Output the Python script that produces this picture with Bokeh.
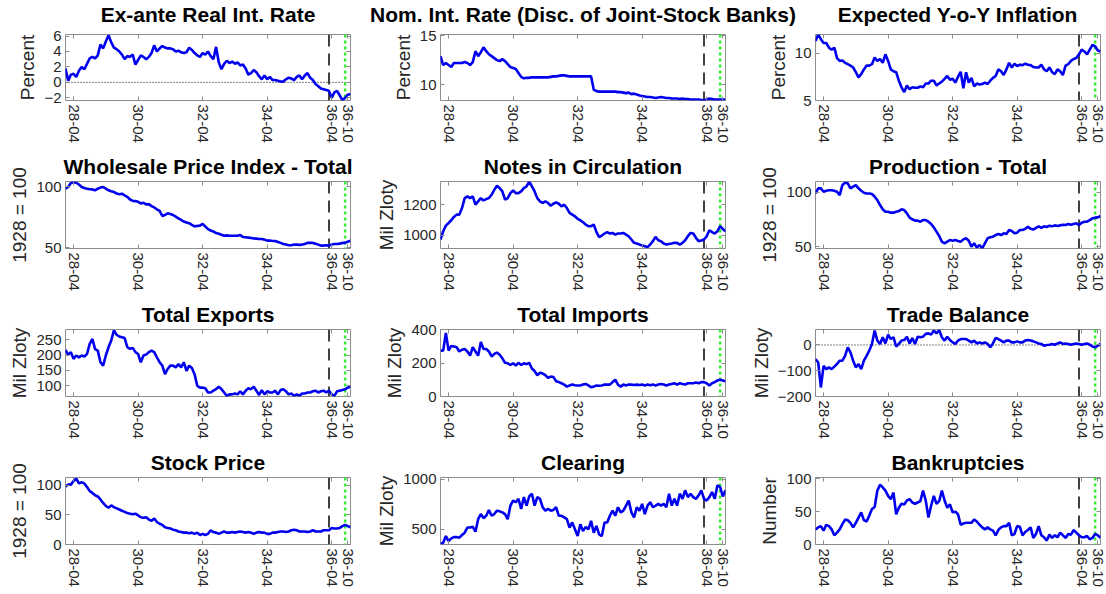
from bokeh.plotting import figure
from bokeh.layouts import column, row
from bokeh.models import Range1d, FixedTicker, LinearAxis, Span
from bokeh.embed import file_html
from bokeh.resources import INLINE

# ---------------- data (monthly, index 0 = 1928-01) ----------------
months = list(range(107))
tick_pos = [3, 27, 51, 75, 99, 105]
tick_labels = ["28-04", "30-04", "32-04", "34-04", "36-04", "36-10"]
marker_dashed = 98
marker_green = 104

real_rate = [1.8,0.2,1.0,1.1,0.7,1.5,2.0,1.7,2.4,3.1,
 3.3,3.1,3.5,4.9,4.4,5.3,6.1,5.2,4.5,4.3,
 4.0,3.6,3.0,3.4,3.3,3.6,2.3,2.9,3.5,3.3,
 3.0,3.3,3.8,4.8,4.0,4.4,4.7,4.5,4.4,4.4,
 4.3,4.0,4.1,3.9,3.8,3.9,4.5,4.2,3.8,3.5,
 3.3,3.8,3.6,4.0,3.4,3.0,4.6,2.6,1.7,2.4,
 2.8,2.5,2.7,2.4,2.6,2.2,2.3,1.8,1.0,1.2,
 1.6,1.3,0.8,0.4,0.9,0.4,0.7,0.3,0.3,0.2,
 0.1,0.1,0.4,0.6,0.5,0.3,0.7,0.9,0.4,0.9,
 1.2,0.6,0.3,-0.2,-0.5,-0.8,-0.9,-1.0,-1.1,-2.0,
 -1.3,-1.1,-1.7,-2.3,-2.0,-1.6,-1.5]

nom_rate = [12.9,12.0,12.2,12.0,11.8,12.2,12.2,12.2,12.2,12.3,
 12.2,12.0,12.3,13.4,12.9,13.3,13.8,13.4,13.1,12.9,
 12.7,12.5,12.4,12.6,12.4,12.1,11.8,11.7,11.6,11.2,
 10.8,10.65,10.7,10.7,10.75,10.75,10.75,10.75,10.75,10.75,
 10.75,10.8,10.85,10.85,10.9,10.95,10.95,10.9,10.85,10.85,
 10.85,10.85,10.85,10.85,10.85,10.85,10.85,9.5,9.35,9.3,
 9.3,9.3,9.3,9.3,9.3,9.3,9.25,9.25,9.2,9.15,
 9.2,9.05,9.1,9.0,8.9,8.85,8.8,8.75,8.75,8.7,
 8.65,8.7,8.75,8.7,8.65,8.65,8.6,8.6,8.6,8.55,
 8.6,8.55,8.55,8.5,8.5,8.5,8.5,8.45,8.4,8.5,
 8.6,8.55,8.5,8.5,8.5,8.5,8.5]

exp_infl = [11.3,12.0,11.5,11.1,11.1,10.6,10.4,10.6,9.5,9.2,
 9.25,9.0,8.85,8.7,8.5,8.0,7.45,7.8,8.3,8.7,
 8.7,8.85,9.55,9.2,9.4,9.0,9.9,9.2,8.3,8.1,
 8.0,7.1,6.4,5.9,6.6,6.2,6.4,6.35,6.35,6.5,
 6.4,6.8,6.8,7.1,7.1,6.6,6.8,7.0,7.3,7.6,
 7.2,7.3,6.9,7.5,8.05,6.3,8.0,6.9,7.4,6.5,
 6.8,6.7,6.75,6.9,6.75,7.1,7.4,7.6,8.3,8.1,
 7.7,8.3,9.0,8.5,8.9,8.65,8.8,8.75,8.9,8.8,
 8.75,8.55,8.5,8.5,8.8,8.3,8.1,8.5,8.0,7.8,
 8.3,8.1,7.7,8.7,8.85,9.2,9.4,9.5,9.9,10.4,
 10.2,9.9,10.4,10.9,10.75,10.3,10.2]

wpi = [98.6,100,103.2,104,103.5,102,100,99.2,98.6,98.1,
 98.0,97.3,98.6,99.5,100,98.6,97.3,96.5,95.9,94.6,
 94.0,94.5,93.0,91.9,89.7,88.6,88.4,87.8,86.5,87.0,
 85.7,85.9,84.3,83.2,81.6,80.3,76.2,77.0,78.4,77.8,
 77.0,75.7,74.3,73.0,71.6,70.8,70.3,68.9,67.6,68.1,
 68.3,69.7,67.6,65.4,64.3,63.5,62.2,61.6,60.8,60.0,
 60.3,60.0,60.0,60.0,60.0,60.5,58.9,58.7,58.4,58.1,
 57.8,57.6,57.3,57.3,56.8,56.0,56.0,55.7,55.7,54.9,
 54.1,53.2,52.7,52.2,52.2,52.7,52.7,52.5,52.7,53.2,
 54.1,54.1,54.1,53.5,52.7,51.9,51.9,52.2,51.9,52.7,
 53.2,53.2,53.5,54.1,54.1,55.1,56.0]

notes = [972,1026,1063,1080,1098,1120,1135,1135,1178,1243,
 1254,1243,1254,1200,1222,1243,1228,1237,1243,1265,
 1298,1324,1309,1287,1233,1243,1276,1293,1276,1276,
 1287,1309,1320,1352,1320,1287,1243,1222,1211,1222,
 1211,1193,1206,1215,1206,1189,1200,1178,1146,1135,
 1124,1107,1098,1085,1070,1059,1059,1070,1020,987,
 998,1011,1020,1011,1015,1004,1011,1011,1015,1004,
 993,972,950,946,939,933,928,922,939,961,
 989,967,961,946,939,943,946,950,950,939,
 950,967,993,1015,1011,983,961,965,972,993,
 1033,1020,1011,1026,1059,1041,1026]

production = [99,103.7,103.7,100.6,101.5,102,102,101.5,100.6,97.5,
 106.7,108.9,108.3,103.7,105.2,106.7,103.7,101.5,99.7,99,
 99,98.5,96,92.9,88.3,84.4,82.2,82.2,81.3,81.3,
 82.2,82.8,84.4,83.7,80.7,76.7,75.2,74,74,73,
 74.5,74.5,73,70.9,67.8,63.8,59.8,54.6,53.1,54.6,
 56.1,55.5,56.1,55.2,54.6,56.7,57.7,55.5,50,53.1,
 49.1,51.5,48.5,53.1,57.7,58.6,59.2,60.7,61.7,60.7,
 62.3,61.7,65.3,64.4,62.3,62.9,65.3,65.3,66.4,68.3,
 66.4,65.7,67.2,68.7,67.2,68.7,68.1,69.3,68.7,69.6,
 69.0,69.6,70.2,69.9,70.9,70.2,70.9,71.5,69.9,72.1,
 73,73,74.5,76.1,76.7,77,78.2]

exports = [217,202,210,188,199,193,199,196,204,237,
 253,220,215,177,166,199,226,248,281,267,
 261,259,256,226,221,224,210,204,177,199,
 202,210,215,210,193,177,166,138,155,166,
 166,160,171,160,177,149,166,158,138,100,
 94,94,92,78,78,84,89,97,89,78,
 67,72,72,75,72,82,72,84,92,89,
 97,84,70,86,72,82,78,78,84,72,
 86,89,82,72,75,67,72,67,75,75,
 78,78,82,84,78,82,84,78,84,72,
 67,82,84,86,89,94,97]

imports = [274,274,380,274,302,298,294,269,279,284,
 269,244,294,269,244,325,284,284,269,239,
 254,262,249,228,201,198,188,198,185,201,
 188,198,193,201,167,152,127,142,137,127,
 112,119,116,91,86,79,71,59,66,71,
 67,66,66,71,75,66,55,59,66,64,
 66,71,71,71,86,100,71,59,71,66,
 71,71,69,71,69,71,66,71,67,71,
 66,71,75,71,66,71,75,79,71,79,
 75,71,79,79,79,83,79,86,86,79,
 66,79,86,96,100,96,91]

trade_balance = [-55,-68,-165,-81,-94,-87,-94,-84,-74,-61,
 -61,-42,-9,-29,-61,-87,-74,-94,-61,-42,
 -22,4,56,17,4,30,6,40,23,30,
 -6,4,17,19,32,6,27,4,32,30,
 32,43,45,40,56,45,58,30,17,32,
 19,10,4,17,23,23,23,17,10,17,
 6,10,6,10,4,-9,6,27,23,17,
 10,17,17,10,10,14,10,10,17,19,
 17,14,10,6,4,-3,0,1,4,1,
 6,10,4,6,4,1,4,6,4,1,
 4,6,1,-6,-9,-3,4]

stock = [98,101,101,107,111,103,105,103,97,90,
 87,83,81,76,70,65,62,66,63,61,
 59,57,55,53,52,51,52,49,46,45,
 46,42,40,44,38,35,33,29,28,27,
 25,24,22,21,20,20,19,20,18,20,
 16,18,16,18,24,21,20,18,20,22,
 20,20,21,20,21,22,21,20,21,20,
 18,20,21,20,20,18,18,20,20,21,
 22,22,21,22,24,25,24,22,22,22,
 21,22,24,22,22,22,24,24,24,28,
 27,27,28,31,33,31,29]

clearing = [355,365,432,382,409,422,422,416,443,466,
 517,517,524,476,601,652,611,635,693,635,
 652,686,679,669,652,601,736,787,770,804,
 703,821,736,828,855,736,821,804,720,686,
 703,686,693,720,635,635,618,601,517,568,
 500,432,551,483,524,500,584,466,534,449,
 432,568,568,635,686,635,720,669,686,736,
 787,669,618,720,686,753,652,736,770,720,
 736,753,736,753,720,855,736,804,736,855,
 804,889,821,855,821,804,838,889,804,787,
 821,872,804,939,922,828,889]

bankruptcies = [23,26,28,21,30,28,23,14,18,23,
 31,38,37,33,26,33,41,49,37,35,
 44,54,57,82,91,87,82,74,69,79,
 46,56,62,61,67,69,64,62,64,66,
 82,67,41,59,74,62,66,82,67,56,
 61,49,50,46,30,32,33,33,33,38,
 35,30,26,23,26,23,21,14,22,26,
 28,28,33,14,16,28,27,14,19,22,
 26,10,16,28,14,11,6,15,10,14,
 11,18,14,10,16,15,22,18,14,11,
 11,13,8,10,16,14,10]

titles = ["Ex-ante Real Int. Rate", "Nom. Int. Rate (Disc. of Joint-Stock Banks)", "Expected Y-o-Y Inflation",
          "Wholesale Price Index - Total", "Notes in Circulation", "Production - Total",
          "Total Exports", "Total Imports", "Trade Balance",
          "Stock Price", "Clearing", "Bankruptcies"]
ylabels = ["Percent", "Percent", "Percent",
           "1928 = 100", "Mil Zloty", "1928 = 100",
           "Mil Zloty", "Mil Zloty", "Mil Zloty",
           "1928 = 100", "Mil Zloty", "Number"]
series = [real_rate, nom_rate, exp_infl, wpi, notes, production,
          exports, imports, trade_balance, stock, clearing, bankruptcies]
yranges = [(-2.35, 6.2), (8.4, 15.1), (5, 12), (49.5, 104.5), (913, 1352), (48.3, 110),
           (65, 284), (0, 400), (-200, 60), (0, 113), (348, 1017), (0, 102)]
yticks = [[-2, 0, 2, 4, 6], [10, 15], [5, 10], [50, 100], [1000, 1200], [50, 100],
          [100, 150, 200, 250], [0, 200, 400], [-200, -100, 0], [0, 50, 100], [500, 1000], [0, 50, 100]]
zero_line = [True, False, False, False, False, False, False, False, True, False, False, False]

# ---------------- layout / style ----------------
FONT = "Liberation Sans"
FRAME_W = 285
col_left = [65, 84, 80]
col_right = [6, 10, 6]
row_frame_h = [66, 67, 67, 67]
row_top = [8, 31, 31, 33]
row_bottom = [49, 49, 48, 52]
STRIP_H = 26
# title holders for the first row: (left border, frame width) -> centred on the panel frames
strip_geom = [(46, 323), (0, 427), (13, 297)]
BOX = "#8c8c8c"
TXT = "#262626"
TITLE_PX = "21px"


def style_title(p, standoff):
    p.title.align = "center"
    p.title.text_font = FONT
    p.title.text_font_size = TITLE_PX
    p.title.text_font_style = "bold"
    p.title.text_color = "black"
    p.title.standoff = standoff


def hidden_axis(p, side, ticks):
    ax = LinearAxis(ticker=FixedTicker(ticks=ticks))
    ax.major_label_text_font_size = "0px"
    ax.major_label_text_color = None
    ax.major_label_standoff = 0
    ax.major_tick_in = 4
    ax.major_tick_out = 0
    ax.minor_tick_in = 0
    ax.minor_tick_out = 0
    ax.major_tick_line_color = BOX
    ax.axis_line_color = None
    p.add_layout(ax, side)


def make_panel(i, r, c):
    y0, y1 = yranges[i]
    kw = dict(title=None) if r == 0 else dict(title=titles[i])
    p = figure(frame_width=FRAME_W, frame_height=row_frame_h[r],
               x_range=Range1d(0, 106), y_range=Range1d(y0, y1),
               output_backend="svg", toolbar_location=None,
               min_border_left=col_left[c], min_border_right=col_right[c],
               min_border_top=row_top[r], min_border_bottom=row_bottom[r],
               background_fill_color="white", border_fill_color="white",
               outline_line_color=BOX, outline_line_width=1, **kw)
    if r > 0:
        style_title(p, 7)
    p.grid.visible = False

    xa = p.xaxis[0]
    xa.ticker = FixedTicker(ticks=tick_pos)
    xa.major_label_overrides = {t: lab for t, lab in zip(tick_pos, tick_labels)}
    xa.major_label_orientation = "vertical"
    ya = p.yaxis[0]
    ya.ticker = FixedTicker(ticks=yticks[i])
    ya.axis_label = ylabels[i]
    for ax in (xa, ya):
        ax.major_label_text_font = FONT
        ax.major_label_text_font_size = "15px"
        ax.major_label_text_color = TXT
        ax.major_label_standoff = 4
        ax.major_tick_in = 4
        ax.major_tick_out = 0
        ax.minor_tick_in = 0
        ax.minor_tick_out = 0
        ax.major_tick_line_color = BOX
        ax.axis_line_color = None
    ya.axis_label_text_font = FONT
    ya.axis_label_text_font_size = "19px"
    ya.axis_label_text_font_style = "normal"
    ya.axis_label_text_color = TXT
    ya.axis_label_standoff = 3

    hidden_axis(p, "above", tick_pos)
    hidden_axis(p, "right", yticks[i])

    if zero_line[i]:
        p.add_layout(Span(location=0, dimension="width", line_color="black",
                          line_width=1, line_dash="1 2", level="underlay"))
    p.add_layout(Span(location=marker_dashed, dimension="height", line_color="#404040",
                      line_width=2, line_dash="12 7", level="underlay"))
    p.add_layout(Span(location=marker_green, dimension="height", line_color="#33ee33",
                      line_width=2.5, line_dash="3 3", level="underlay"))

    p.line(months, series[i], line_color="#0000ee", line_width=2.6)
    return p


def title_holder(c):
    left, fw = strip_geom[c]
    s = figure(frame_width=fw, frame_height=1, x_range=Range1d(0, 1), y_range=Range1d(0, 1),
               output_backend="svg", toolbar_location=None, title=titles[c],
               min_border_left=left, min_border_right=0,
               min_border_top=STRIP_H - 1, min_border_bottom=0,
               outline_line_color=None, x_axis_type=None, y_axis_type=None,
               background_fill_color="white", border_fill_color="white")
    s.grid.visible = False
    style_title(s, 0)
    return s


children = [row(*[title_holder(c) for c in range(3)])]
for r in range(4):
    children.append(row(*[make_panel(3 * r + c, r, c) for c in range(3)]))

layout = column(*children)

open("out.html", "w").write(file_html(layout, INLINE))
